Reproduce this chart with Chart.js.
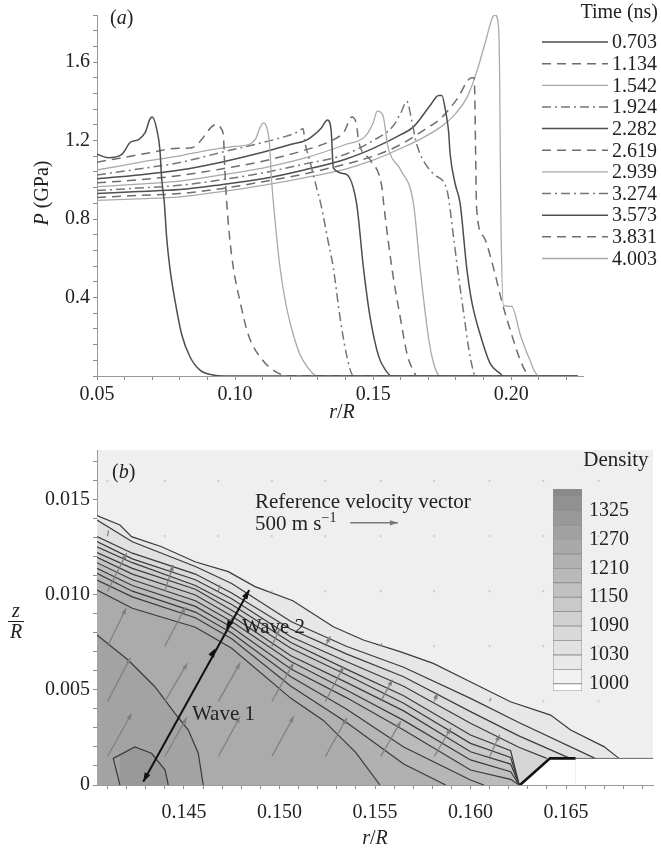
<!DOCTYPE html>
<html>
<head>
<meta charset="utf-8">
<script src="https://cdn.jsdelivr.net/npm/chart.js@4.4.1/dist/chart.umd.min.js"></script>
<style>
  html, body { margin: 0; padding: 0; background: #fff; }
  #wrap { position: relative; width: 661px; height: 850px; }
  canvas { position: absolute; }
  #chartA { left: 0; top: 0; }
  #chartB { left: 0; top: 420px; }
  #chartC { left: 540px; top: 470px; }
</style>
</head>
<body>
<div id="wrap">
  <canvas id="chartA" width="661" height="420"></canvas>
  <canvas id="chartB" width="661" height="430"></canvas>
  <canvas id="chartC" width="121" height="240"></canvas>
</div>
<script>
/* ---------- (a) pressure profiles : [r/R, P (GPa)] ---------- */
const times = ['0.703', '1.134', '1.542', '1.924', '2.282', '2.619', '2.939', '3.274', '3.573', '3.831', '4.003'];

const p0703 = [[0.050,1.13],[0.054,1.113],[0.059,1.13],[0.062,1.19],[0.065,1.205],[0.0674,1.24],[0.0692,1.31],[0.0700,1.32],[0.0716,1.26],[0.0728,1.15],[0.0734,1.01],[0.0744,0.88],[0.0752,0.71],[0.0764,0.55],[0.0783,0.38],[0.0807,0.21],[0.0837,0.097],[0.0873,0.03],[0.0920,0.005],[0.096,0],[0.224,0]];
const p1134 = [[0.050,1.09],[0.060,1.115],[0.070,1.14],[0.078,1.16],[0.0843,1.163],[0.0879,1.205],[0.0897,1.24],[0.0915,1.27],[0.0934,1.283],[0.0950,1.26],[0.0958,1.22],[0.0963,1.05],[0.0970,0.88],[0.0980,0.71],[0.0994,0.55],[0.1018,0.38],[0.1048,0.21],[0.1100,0.08],[0.1150,0.02],[0.119,0],[0.224,0]];
const p1542 = [[0.050,1.05],[0.060,1.075],[0.070,1.10],[0.080,1.122],[0.090,1.15],[0.100,1.17],[0.105,1.18],[0.1075,1.21],[0.109,1.265],[0.1103,1.29],[0.1115,1.265],[0.1125,1.18],[0.1132,1.0],[0.1139,0.88],[0.1163,0.55],[0.1185,0.36],[0.1211,0.21],[0.1235,0.11],[0.1260,0.05],[0.1297,0],[0.224,0]];
const p1924 = [[0.050,1.025],[0.065,1.055],[0.080,1.088],[0.095,1.14],[0.110,1.19],[0.118,1.22],[0.122,1.24],[0.1247,1.26],[0.1252,1.20],[0.127,1.10],[0.1296,0.955],[0.1310,0.88],[0.1335,0.70],[0.1356,0.55],[0.138,0.30],[0.1405,0.10],[0.1429,0],[0.224,0]];
const p2282 = [[0.050,1.005],[0.065,1.025],[0.080,1.05],[0.095,1.09],[0.110,1.14],[0.120,1.18],[0.1255,1.20],[0.1278,1.22],[0.1310,1.26],[0.1335,1.305],[0.1348,1.25],[0.1356,1.06],[0.1400,1.03],[0.1440,0.88],[0.1465,0.55],[0.1489,0.30],[0.1520,0.10],[0.1545,0.03],[0.1567,0],[0.224,0]];
const p2619 = [[0.050,0.985],[0.065,1.00],[0.080,1.022],[0.095,1.055],[0.110,1.095],[0.125,1.15],[0.135,1.20],[0.1395,1.245],[0.1423,1.32],[0.1440,1.28],[0.1447,1.20],[0.1490,1.10],[0.1532,0.96],[0.1538,0.88],[0.1568,0.55],[0.1598,0.30],[0.1625,0.10],[0.1645,0.03],[0.1658,0],[0.224,0]];
const p2939 = [[0.050,0.965],[0.065,0.978],[0.080,0.993],[0.095,1.025],[0.110,1.06],[0.125,1.11],[0.140,1.18],[0.147,1.22],[0.150,1.29],[0.1515,1.35],[0.1535,1.33],[0.1555,1.16],[0.1600,1.05],[0.1646,0.88],[0.1670,0.55],[0.1700,0.20],[0.1720,0.06],[0.1743,0],[0.224,0]];
const p3274 = [[0.050,0.945],[0.065,0.958],[0.080,0.972],[0.095,1.00],[0.110,1.035],[0.125,1.08],[0.140,1.13],[0.150,1.20],[0.157,1.27],[0.160,1.34],[0.1622,1.40],[0.1640,1.30],[0.1658,1.18],[0.1718,1.03],[0.1767,0.95],[0.1791,0.71],[0.1810,0.50],[0.1830,0.30],[0.1845,0.15],[0.1860,0.04],[0.1870,0],[0.224,0]];
const p3573 = [[0.050,0.93],[0.065,0.94],[0.080,0.95],[0.095,0.975],[0.110,1.005],[0.125,1.05],[0.140,1.105],[0.150,1.16],[0.160,1.23],[0.1646,1.27],[0.1707,1.38],[0.1737,1.43],[0.1749,1.43],[0.1761,1.36],[0.1773,1.25],[0.1779,1.13],[0.1797,0.98],[0.1815,0.88],[0.1839,0.55],[0.1857,0.38],[0.1888,0.21],[0.1924,0.063],[0.1960,0.013],[0.1970,0],[0.224,0]];
const p3831 = [[0.050,0.91],[0.065,0.92],[0.080,0.93],[0.095,0.955],[0.110,0.99],[0.125,1.03],[0.140,1.08],[0.150,1.12],[0.160,1.18],[0.1694,1.263],[0.1743,1.31],[0.1803,1.41],[0.1857,1.52],[0.1866,1.52],[0.1875,0.85],[0.1900,0.71],[0.1936,0.55],[0.1966,0.38],[0.2002,0.21],[0.2033,0.08],[0.2057,0.013],[0.2080,0],[0.224,0]];
const p4003 = [[0.050,0.895],[0.065,0.903],[0.080,0.913],[0.095,0.94],[0.110,0.972],[0.125,1.01],[0.140,1.055],[0.150,1.10],[0.160,1.16],[0.1675,1.21],[0.1755,1.28],[0.1800,1.34],[0.1840,1.42],[0.1875,1.55],[0.1906,1.70],[0.1933,1.83],[0.1942,1.84],[0.1954,1.78],[0.1958,1.55],[0.1962,0.88],[0.1972,0.36],[0.2002,0.355],[0.2033,0.21],[0.2065,0.09],[0.2099,0],[0.224,0]];

const rTicksA  = [0.05, 0.10, 0.15, 0.20];
const rLabelsA = ['0.05', '0.10', '0.15', '0.20'];
const pTicksA  = [0.4, 0.8, 1.2, 1.6];
const pLabelsA = ['0.4', '0.8', '1.2', '1.6'];

/* ---------- (b) density contours : [r/R, z/R] ---------- */
const contourL1  = [[0.14045,0.01418],[0.14165,0.01368],[0.14226,0.01307],[0.14383,0.01254],[0.14558,0.01175],[0.14732,0.01123],[0.14872,0.01044],[0.1507,0.0097],[0.15282,0.00833],[0.15439,0.00763],[0.15631,0.00702],[0.15805,0.0064],[0.1598,0.00553],[0.16209,0.00438],[0.16419,0.00368],[0.16524,0.00289],[0.16698,0.00202],[0.16777,0.0014]];
const contourL2  = [[0.14045,0.01395],[0.1423,0.0128],[0.1456,0.0115],[0.1475,0.0106],[0.1506,0.0086],[0.1535,0.0073],[0.1565,0.0062],[0.1600,0.00456],[0.1625,0.0033],[0.16652,0.0014]];
const contourL3  = [[0.14045,0.01307],[0.1423,0.0122],[0.1456,0.0111],[0.1475,0.0101],[0.1506,0.0082],[0.1535,0.0069],[0.1565,0.0057],[0.1600,0.00386],[0.1625,0.0026],[0.16521,0.0014]];
const contourL4  = [[0.14045,0.01281],[0.1423,0.0119],[0.1456,0.0108],[0.1475,0.0098],[0.1506,0.0078],[0.1535,0.0065],[0.1565,0.0052],[0.1600,0.00325],[0.1625,0.0020],[0.16399,0.0014]];
const contourL5  = [[0.14045,0.01254],[0.1423,0.0117],[0.1456,0.0105],[0.1475,0.0095],[0.1506,0.0075],[0.1535,0.0061],[0.1565,0.0047],[0.1600,0.00263],[0.1621,0.0018],[0.16255,0]];
const contourL6  = [[0.14045,0.01223],[0.1423,0.0114],[0.1456,0.0103],[0.1475,0.0092],[0.1506,0.0072],[0.1535,0.0058],[0.1565,0.0043],[0.1600,0.00219],[0.1621,0.00145],[0.16255,0]];
const contourL7  = [[0.14045,0.01198],[0.1423,0.0111],[0.1456,0.0100],[0.1475,0.0089],[0.1506,0.0068],[0.1535,0.0054],[0.1565,0.0039],[0.1600,0.00175],[0.1621,0.0011],[0.16255,0]];
const contourL8  = [[0.14045,0.0117],[0.1423,0.0108],[0.1456,0.0097],[0.1475,0.0086],[0.1506,0.0065],[0.1535,0.0050],[0.1565,0.0034],[0.1600,0.00132],[0.1621,0.0007],[0.16255,0]];
const contourL9  = [[0.14045,0.0114],[0.1423,0.0105],[0.1456,0.0094],[0.1475,0.0083],[0.1506,0.0061],[0.1535,0.0046],[0.1565,0.0029],[0.1600,0.00079],[0.1621,0.0003],[0.16255,0]];
const contourL10 = [[0.14045,0.01114],[0.1423,0.0102],[0.1456,0.0091],[0.1475,0.0080],[0.1506,0.0057],[0.1535,0.0040],[0.1565,0.0020],[0.1600,0.00026],[0.1607,0]];
const contourL11 = [[0.14045,0.01079],[0.1423,0.0099],[0.1456,0.0088],[0.1475,0.0077],[0.1506,0.0052],[0.1535,0.0033],[0.1565,0.0011],[0.1587,0]];
const contourL12 = [[0.14045,0.01026],[0.1423,0.0093],[0.1456,0.0083],[0.1475,0.0072],[0.1506,0.00456],[0.1523,0.0034],[0.1540,0.0017],[0.15526,0]];
const contourArch = [[0.14045,0.0079],[0.14208,0.00658],[0.14348,0.00517],[0.14453,0.00377],[0.14523,0.00289],[0.14575,0.00167],[0.14601,0]];
const contourCore = [[0.14165,0],[0.1413,0.0014],[0.14243,0.0020],[0.1433,0.00167],[0.14401,0.0008],[0.14418,0]];
const stepEdge    = [[0.16259,0],[0.16416,0.0014],[0.1655,0.0014],[0.1700,0.0014]];

const bandFill = ['#e7e7e7','#e1e1e1','#dbdbdb','#d5d5d5','#cfcfcf','#cacaca','#c5c5c5','#c0c0c0','#bbbbbb','#b6b6b6','#b1b1b1','#ababab','#a3a3a3','#999999'];

/* velocity field (m/s) on a grid of tails */
const velCols = [0.1410, 0.1440, 0.1468, 0.1496, 0.1524, 0.1553, 0.1581, 0.1610, 0.1638, 0.1667];
const velRows = [0.0015, 0.0044, 0.0073, 0.0102, 0.0131, 0.0160];
const velU = [
  [250, 230, 228, 228, 225, 210, 175, 105, null, null],
  [240, 235, 228, 228, 192, 122,  35,  12,    0,    0],
  [195, 215, 160,  80,  52,  10,   0,   0,    0,    0],
  [200,  88,  16,   0,   0,   0,   0,   0,    0,    0],
  [ 10,   0,   0,   0,   0,   0,   0,   0,    0,    0],
  [  0,   0,   0,   0,   0,   0,   0,   0,    0,    0]
];
const velW = [
  [450, 410, 420, 420, 405, 370, 300, 230, null, null],
  [460, 400, 405, 405, 368, 228,  88,  35,    0,    0],
  [400, 410, 320, 180, 105,  30,   0,   0,    0,    0],
  [400, 276,  66,   0,   0,   0,   0,   0,    0,    0],
  [ 60,   0,   0,   0,   0,   0,   0,   0,    0,    0],
  [  0,   0,   0,   0,   0,   0,   0,   0,    0,    0]
];
const refVelocity = 500;                  // m/s, reference vector
const refArrowAt  = [0.1537, 0.0138];
const velScale    = 0.0025 / refVelocity; // r/R per m/s

const waveR = [0.14287, 0.14665, 0.14720, 0.14842];
const waveZ = [0.00017, 0.00720, 0.00820, 0.01026];

const rTicksB  = [0.145, 0.150, 0.155, 0.160, 0.165];
const rLabelsB = ['0.145', '0.150', '0.155', '0.160', '0.165'];
const zTicksB  = [0, 0.005, 0.010, 0.015];
const zLabelsB = ['0', '0.005', '0.010', '0.015'];

/* colour bar */
const densityLevels = [1000, 1015, 1030, 1060, 1090, 1120, 1150, 1180, 1210, 1240, 1270, 1297, 1325, 1352];
const densityLabels = [1000, 1030, 1090, 1150, 1210, 1270, 1325];
const densityColors = ['#ffffff','#f2f2f2','#e9e9e9','#e1e1e1','#d9d9d9','#d1d1d1','#c9c9c9','#c1c1c1','#b9b9b9','#b1b1b1','#a9a9a9','#a1a1a1','#999999','#919191','#898989'];

/* ---------- shared helpers ---------- */
const SERIF = '"Liberation Serif", "Times New Roman", "DejaVu Serif", serif';
Chart.defaults.font.family = SERIF;
Chart.defaults.color = '#222';

const STYLES = [
  { color: '#4e4e4e', width: 1.5, dash: [] },          // solid dark
  { color: '#6e6e6e', width: 1.5, dash: [9, 6] },      // dashed
  { color: '#a9a9a9', width: 1.3, dash: [] },          // light solid
  { color: '#767676', width: 1.5, dash: [9, 4, 2, 4] } // dash-dot
];

function stepTicks(from, to, step) {
  const out = [];
  const n = Math.round((to - from) / step);
  for (let k = 0; k <= n; k++) out.push({ value: +(from + k * step).toFixed(6) });
  return out;
}
function labelFor(majors, labels) {
  return v => {
    const k = majors.findIndex(t => Math.abs(t - v) < 1e-7);
    return k < 0 ? '' : labels[k];
  };
}
function axis(o) {
  return {
    type: 'linear', min: o.min, max: o.max,
    afterBuildTicks: s => { s.ticks = stepTicks(o.from, o.to, o.step); },
    afterFit: s => { if (o.width) s.width = o.width; if (o.height) s.height = o.height; },
    ticks: { autoSkip: false, maxRotation: 0, padding: o.pad, font: { size: 20 }, color: '#222',
             callback: labelFor(o.majors, o.labels) },
    grid: { drawOnChartArea: false, drawTicks: true, tickLength: 4, color: '#8c8c8c' },
    border: { display: true, color: '#9a9a9a', width: 1 }
  };
}
const toXY = pts => pts.map(([x, y]) => ({ x, y }));

// text made of parts with different styles; align: 'left' | 'center'
function richText(ctx, x, y, parts, align) {
  const fontOf = p => `${p.italic ? 'italic ' : ''}${p.size || 20}px ${SERIF}`;
  let total = 0;
  parts.forEach(p => { ctx.font = fontOf(p); total += ctx.measureText(p.t).width; });
  let cx = align === 'center' ? x - total / 2 : x;
  ctx.textAlign = 'left';
  parts.forEach(p => {
    ctx.font = fontOf(p);
    ctx.fillText(p.t, cx, y + (p.dy || 0));
    cx += ctx.measureText(p.t).width;
  });
}

function arrowHead(ctx, x1, y1, x2, y2, len, half) {
  const a = Math.atan2(y2 - y1, x2 - x1);
  const bx = x2 - len * Math.cos(a), by = y2 - len * Math.sin(a);
  ctx.beginPath();
  ctx.moveTo(x2, y2);
  ctx.lineTo(bx + half * Math.sin(a), by - half * Math.cos(a));
  ctx.lineTo(bx - half * Math.sin(a), by + half * Math.cos(a));
  ctx.closePath();
  ctx.fill();
}

/* ================================================================
 * (a) P vs r/R
 * ================================================================ */
const profiles = [p0703, p1134, p1542, p1924, p2282, p2619, p2939, p3274, p3573, p3831, p4003];

const annotA = {
  id: 'annotA',
  afterDraw(chart) {
    const { ctx } = chart;
    ctx.save();
    ctx.fillStyle = '#222';
    ctx.textBaseline = 'alphabetic';
    richText(ctx, 110, 24, [{ t: '(' }, { t: 'a', italic: true }, { t: ')' }], 'left');
    richText(ctx, 342, 418, [{ t: 'r', italic: true }, { t: '/' }, { t: 'R', italic: true }], 'center');

    ctx.translate(48, 193);
    ctx.rotate(-Math.PI / 2);
    richText(ctx, 0, 0, [{ t: 'P', italic: true }, { t: ' (GPa)' }], 'center');
    ctx.restore();

    // legend
    ctx.save();
    ctx.fillStyle = '#222';
    ctx.font = `20px ${SERIF}`;
    ctx.textBaseline = 'middle';
    ctx.textAlign = 'right';
    ctx.fillText('Time (ns)', 658, 13);
    ctx.textAlign = 'left';
    chart.data.datasets.forEach((ds, i) => {
      const y = 42 + i * 21.65;
      ctx.strokeStyle = ds.borderColor;
      ctx.lineWidth = ds.borderWidth;
      ctx.setLineDash(ds.borderDash);
      ctx.beginPath(); ctx.moveTo(542, y); ctx.lineTo(608, y); ctx.stroke();
      ctx.setLineDash([]);
      ctx.fillText(ds.label, 612, y + 1);
    });
    ctx.restore();
  }
};

function drawPanelA() {
  new Chart(document.getElementById('chartA'), {
    type: 'line',
    data: {
      datasets: profiles.map((pts, i) => {
        const st = STYLES[i % 4];
        return {
          label: times[i],
          data: toXY(pts),
          borderColor: st.color, borderWidth: st.width, borderDash: st.dash,
          pointRadius: 0, fill: false, cubicInterpolationMode: 'monotone'
        };
      })
    },
    options: {
      responsive: false, animation: false, devicePixelRatio: 1,
      layout: { padding: { top: 8, right: 78, left: 0, bottom: 0 }, autoPadding: false },
      plugins: { legend: { display: false }, tooltip: { enabled: false } },
      scales: {
        x: axis({ min: 0.05, max: 0.226, from: 0.05, to: 0.22, step: 0.01, majors: rTicksA, labels: rLabelsA, pad: 3, height: 44 }),
        y: axis({ min: 0, max: 1.84, from: 0, to: 1.84, step: 0.08, majors: pTicksA, labels: pLabelsA, pad: 3, width: 97 })
      }
    },
    plugins: [annotA]
  });
}

/* ================================================================
 * (b) density contours + velocity vectors
 * ================================================================ */
const contours = [contourL1, contourL2, contourL3, contourL4, contourL5, contourL6, contourL7,
                  contourL8, contourL9, contourL10, contourL11, contourL12, contourArch, contourCore];

const panelB = {
  id: 'panelB',
  beforeDraw(chart) {
    const { ctx, chartArea: a } = chart;
    ctx.save();
    ctx.fillStyle = '#efefef';
    ctx.fillRect(a.left, a.top, a.right - a.left, a.bottom - a.top);
    ctx.restore();
  },
  afterDatasetsDraw(chart) {
    const { ctx, chartArea: a, scales: { x, y } } = chart;
    ctx.save();
    ctx.beginPath(); ctx.rect(a.left, a.top, a.right - a.left, a.bottom - a.top); ctx.clip();

    // velocity vectors
    ctx.strokeStyle = '#7f7f7f'; ctx.fillStyle = '#7f7f7f'; ctx.lineWidth = 1.2;
    velRows.forEach((z, j) => velCols.forEach((r, i) => {
      const u = velU[j][i], w = velW[j][i];
      if (u === null) return;
      const x1 = x.getPixelForValue(r), y1 = y.getPixelForValue(z);
      if (u === 0 && w === 0) {
        ctx.fillStyle = '#cdcdcd'; ctx.fillRect(x1 - 1, y1 - 1, 2, 2); ctx.fillStyle = '#7f7f7f';
        return;
      }
      const x2 = x.getPixelForValue(r + u * velScale), y2 = y.getPixelForValue(z + w * velScale);
      const len = Math.hypot(x2 - x1, y2 - y1);
      ctx.beginPath(); ctx.moveTo(x1, y1); ctx.lineTo(x2, y2); ctx.stroke();
      if (len > 8) arrowHead(ctx, x1, y1, x2, y2, 6, 2.3);
    }));

    // reference vector
    {
      const [r0, z0] = refArrowAt;
      const x1 = x.getPixelForValue(r0), y1 = y.getPixelForValue(z0);
      const x2 = x.getPixelForValue(r0 + refVelocity * velScale);
      ctx.strokeStyle = '#777'; ctx.fillStyle = '#777'; ctx.lineWidth = 1.5;
      ctx.beginPath(); ctx.moveTo(x1, y1); ctx.lineTo(x2, y1); ctx.stroke();
      arrowHead(ctx, x1, y1, x2, y1, 8, 2.6);
    }

    // wave markers
    const wp = waveR.map((r, i) => [x.getPixelForValue(r), y.getPixelForValue(waveZ[i])]);
    ctx.strokeStyle = '#111'; ctx.fillStyle = '#111'; ctx.lineWidth = 2;
    ctx.beginPath(); ctx.moveTo(wp[0][0], wp[0][1]); ctx.lineTo(wp[3][0], wp[3][1]); ctx.stroke();
    arrowHead(ctx, wp[1][0], wp[1][1], wp[0][0], wp[0][1], 9, 3.2);
    arrowHead(ctx, wp[0][0], wp[0][1], wp[1][0], wp[1][1], 9, 3.2);
    arrowHead(ctx, wp[3][0], wp[3][1], wp[2][0], wp[2][1], 9, 3.2);
    arrowHead(ctx, wp[2][0], wp[2][1], wp[3][0], wp[3][1], 9, 3.2);
    ctx.restore();

    // annotations
    ctx.save();
    ctx.fillStyle = '#222';
    ctx.textBaseline = 'alphabetic';
    const px = (r, z) => [x.getPixelForValue(r), y.getPixelForValue(z)];
    let p = px(0.14542, 0.00342); richText(ctx, p[0], p[1], [{ t: 'Wave 1', size: 21 }], 'left');
    p = px(0.14804, 0.0080);      richText(ctx, p[0], p[1], [{ t: 'Wave 2', size: 21 }], 'left');
    p = px(0.14872, 0.01458);     richText(ctx, p[0], p[1], [{ t: 'Reference velocity vector', size: 21 }], 'left');
    p = px(0.14872, 0.01342);     richText(ctx, p[0], p[1], [{ t: `${refVelocity} m s`, size: 21 }, { t: '\u22121', size: 14, dy: -8 }], 'left');
    p = px(0.1659, 0.01679);      richText(ctx, p[0], p[1], [{ t: 'Density', size: 21 }], 'left');
    richText(ctx, a.left + 15, a.top + 28, [{ t: '(' }, { t: 'b', italic: true }, { t: ')' }], 'left');
    ctx.restore();
  },
  afterDraw(chart) {
    const { ctx, chartArea: a } = chart;
    ctx.save();
    ctx.fillStyle = '#222';
    ctx.textBaseline = 'alphabetic';
    richText(ctx, (a.left + a.right) / 2, 424, [{ t: 'r', italic: true }, { t: '/' }, { t: 'R', italic: true }], 'center');
    richText(ctx, 16, 197, [{ t: 'z', italic: true }], 'center');
    richText(ctx, 16, 218, [{ t: 'R', italic: true }], 'center');
    ctx.strokeStyle = '#222'; ctx.lineWidth = 1;
    ctx.beginPath(); ctx.moveTo(8, 201.5); ctx.lineTo(24, 201.5); ctx.stroke();
    ctx.restore();
  }
};

function drawPanelB() {
  const dsB = contours.map((pts, i) => ({
    data: toXY(pts),
    borderColor: '#3a3a3a', borderWidth: 1.2,
    backgroundColor: bandFill[i], fill: 'origin',
    pointRadius: 0, tension: 0, order: 50 - i
  }));
  dsB.push({
    data: toXY(stepEdge),
    borderColor: '#111', borderWidth: 2.6, backgroundColor: '#ffffff', fill: 'origin',
    pointRadius: 0, tension: 0, order: 1,
    segment: {
      borderWidth: c => (c.p0.parsed.x > 0.1654 ? 1 : 2.6),
      borderColor: c => (c.p0.parsed.x > 0.1654 ? '#666' : '#111')
    }
  });

  new Chart(document.getElementById('chartB'), {
    type: 'line',
    data: { datasets: dsB },
    options: {
      responsive: false, animation: false, devicePixelRatio: 1,
      layout: { padding: { top: 30, right: 8, left: 0, bottom: 0 }, autoPadding: false },
      plugins: { legend: { display: false }, tooltip: { enabled: false } },
      scales: {
        x: axis({ min: 0.14045, max: 0.16955, from: 0.141, to: 0.169, step: 0.001, majors: rTicksB, labels: rLabelsB, pad: 12, height: 65 }),
        y: axis({ min: 0, max: 0.01763, from: 0, to: 0.017, step: 0.001, majors: zTicksB, labels: zLabelsB, pad: 3, width: 97 })
      }
    },
    plugins: [panelB]
  });
}

/* ================================================================
 * colour bar (density)
 * ================================================================ */
function drawColourBar() {
  const bandEdges = [-0.5, ...densityLevels.map((_, k) => k), densityLevels.length - 0.5];
  new Chart(document.getElementById('chartC'), {
    type: 'bar',
    data: {
      labels: ['density'],
      datasets: densityColors.map((c, i) => ({
        data: [[bandEdges[i], bandEdges[i + 1]]],
        backgroundColor: c, borderColor: '#8e8e8e', borderWidth: 0.8, borderSkipped: false,
        grouped: false, barPercentage: 1, categoryPercentage: 1
      }))
    },
    options: {
      responsive: false, animation: false, devicePixelRatio: 1,
      layout: { padding: { left: 13, top: 15, bottom: 11, right: 0 }, autoPadding: false },
      plugins: { legend: { display: false }, tooltip: { enabled: false } },
      scales: {
        x: { display: false },
        y: {
          position: 'right', min: -0.5, max: densityLevels.length - 0.5,
          afterFit: s => { s.width = 79; },
          afterBuildTicks: s => { s.ticks = densityLabels.map(d => ({ value: densityLevels.indexOf(d) })); },
          ticks: { autoSkip: false, padding: 7, font: { size: 20 }, color: '#222',
                   callback: v => String(densityLevels[Math.round(v)]) },
          grid: { display: false, drawTicks: false },
          border: { display: false }
        }
      }
    }
  });
}

function drawAll() { drawPanelA(); drawPanelB(); drawColourBar(); }

Promise.all([
  document.fonts.load('20px "Liberation Serif"'),
  document.fonts.load('italic 20px "Liberation Serif"')
]).then(drawAll, drawAll);
</script>
</body>
</html>
